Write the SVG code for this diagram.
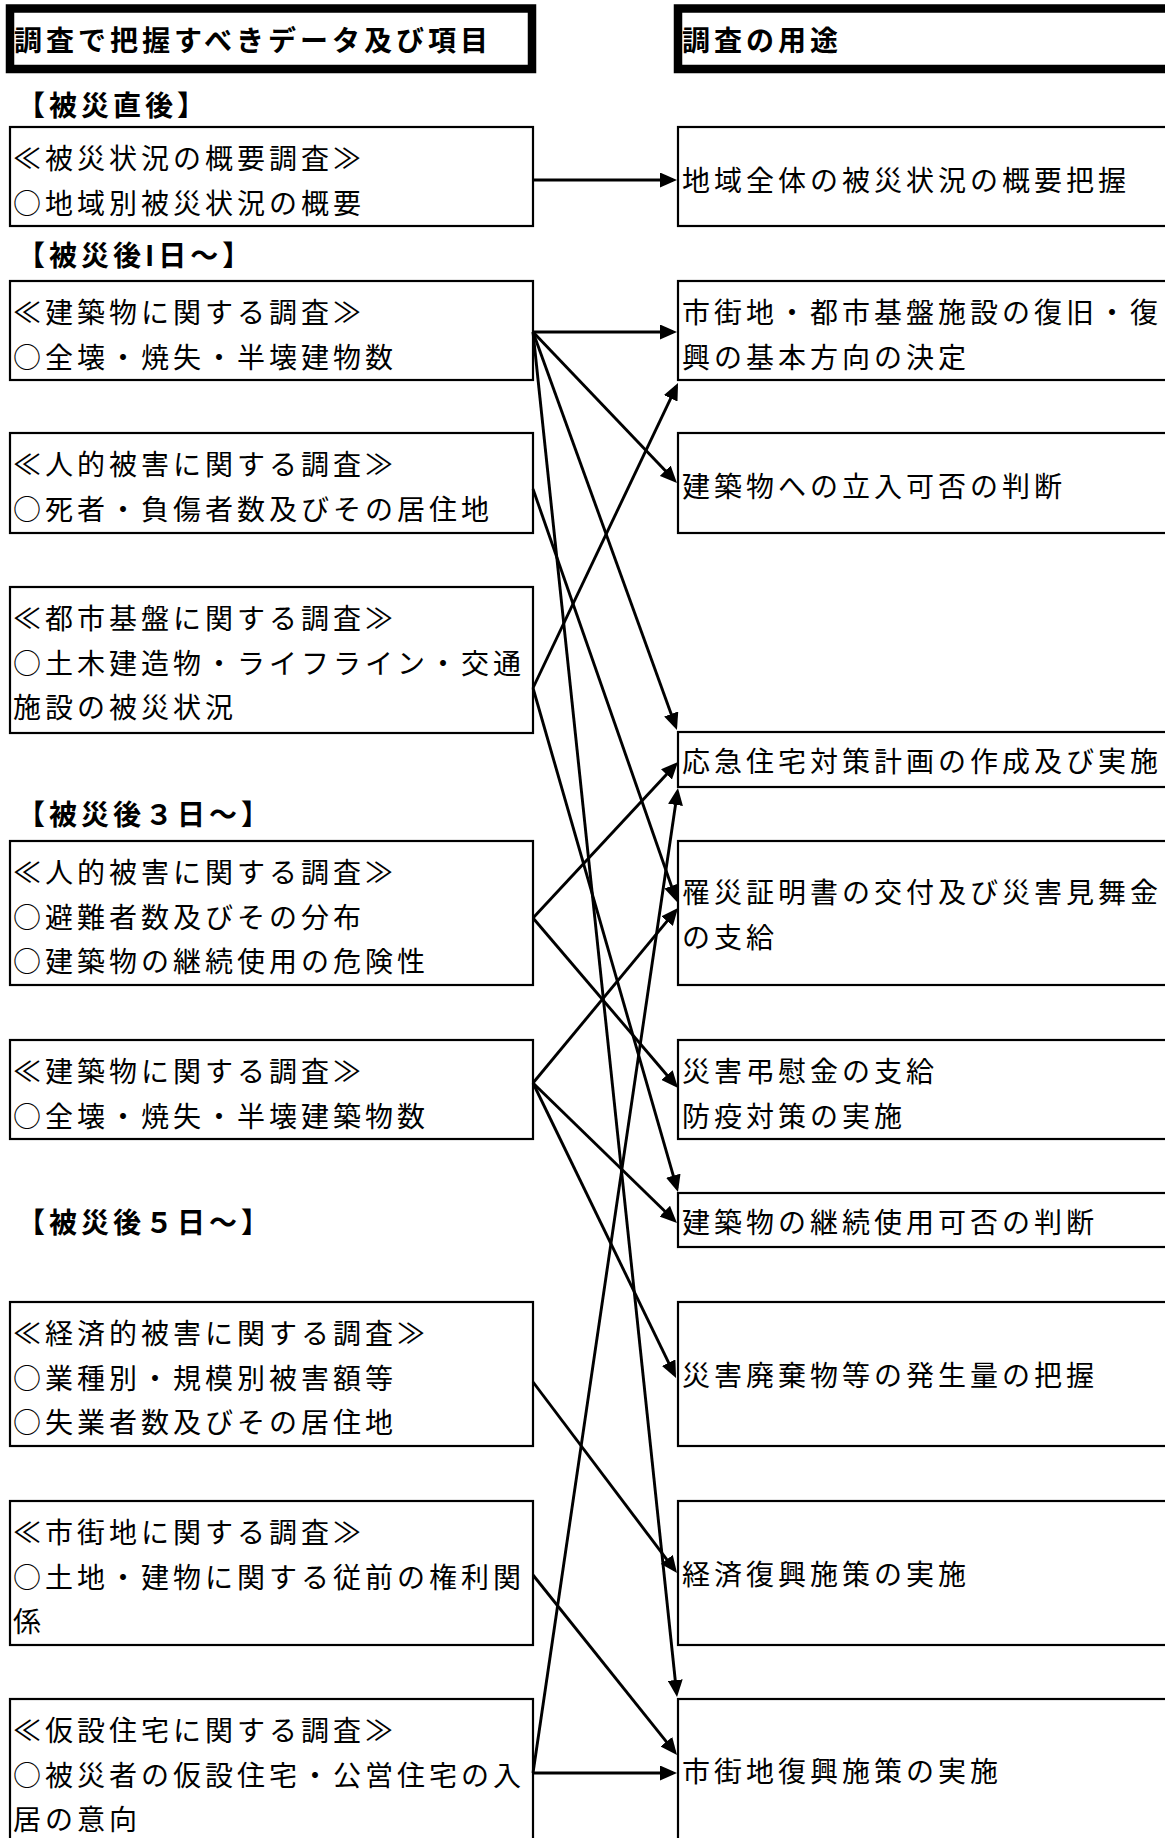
<svg xmlns="http://www.w3.org/2000/svg" width="1165" height="1838" viewBox="0 0 1165 1838">
<style>
.bx{fill:#fff;stroke:#000;stroke-width:2.2}
.hd{fill:#fff;stroke:#000;stroke-width:8.5}
text{font-family:"Noto Sans CJK JP","Noto Sans CJK SC",sans-serif;font-size:28px;letter-spacing:4px;fill:#000}
.b{font-weight:bold}
#connectors line{stroke:#000;stroke-width:2.9;fill:none;marker-end:url(#ah)}
</style>
<defs>
<marker id="ah" markerUnits="userSpaceOnUse" viewBox="0 0 17 15" markerWidth="17" markerHeight="15" refX="13" refY="7.5" orient="auto">
<path d="M0,0 L17,7.5 L0,15 Z" fill="#000"/>
</marker>
</defs>
<rect width="1165" height="1838" fill="#fff"/>

<g id="header-left"><rect class="hd" x="10" y="8.5" width="522" height="60.5"/><text class="b" x="14" y="51">調査で把握すべきデータ及び項目</text></g>
<g id="header-right"><rect class="hd" x="678" y="8.5" width="520" height="60.5"/><text class="b" x="682" y="51">調査の用途</text></g>

<g id="label-0"><text class="b" x="17" y="115.5">【被災直後】</text></g>
<g id="label-1"><text class="b" x="17" y="266">【被災後I日～】</text></g>
<g id="label-3"><text class="b" x="17" y="825">【被災後３日～】</text></g>
<g id="label-5"><text class="b" x="17" y="1233">【被災後５日～】</text></g>

<g id="L1"><rect class="bx" x="10" y="127" width="523" height="99"/><text x="13" y="169">≪被災状況の概要調査≫</text><text x="13" y="213.5">○地域別被災状況の概要</text></g>
<g id="L2"><rect class="bx" x="10" y="281" width="523" height="99"/><text x="13" y="323">≪建築物に関する調査≫</text><text x="13" y="367.5">○全壊・焼失・半壊建物数</text></g>
<g id="L3"><rect class="bx" x="10" y="433" width="523" height="100"/><text x="13" y="475">≪人的被害に関する調査≫</text><text x="13" y="519.5">○死者・負傷者数及びその居住地</text></g>
<g id="L4"><rect class="bx" x="10" y="587" width="523" height="146"/><text x="13" y="629">≪都市基盤に関する調査≫</text><text x="13" y="673.5">○土木建造物・ライフライン・交通</text><text x="13" y="718">施設の被災状況</text></g>
<g id="L5"><rect class="bx" x="10" y="841" width="523" height="144"/><text x="13" y="883">≪人的被害に関する調査≫</text><text x="13" y="927.5">○避難者数及びその分布</text><text x="13" y="972">○建築物の継続使用の危険性</text></g>
<g id="L6"><rect class="bx" x="10" y="1040" width="523" height="99"/><text x="13" y="1082">≪建築物に関する調査≫</text><text x="13" y="1126.5">○全壊・焼失・半壊建築物数</text></g>
<g id="L7"><rect class="bx" x="10" y="1302" width="523" height="144"/><text x="13" y="1344">≪経済的被害に関する調査≫</text><text x="13" y="1388.5">○業種別・規模別被害額等</text><text x="13" y="1433">○失業者数及びその居住地</text></g>
<g id="L8"><rect class="bx" x="10" y="1501" width="523" height="144"/><text x="13" y="1543">≪市街地に関する調査≫</text><text x="13" y="1587.5">○土地・建物に関する従前の権利関</text><text x="13" y="1632">係</text></g>
<g id="L9"><rect class="bx" x="10" y="1699" width="523" height="160"/><text x="13" y="1741">≪仮設住宅に関する調査≫</text><text x="13" y="1785.5">○被災者の仮設住宅・公営住宅の入</text><text x="13" y="1830">居の意向</text></g>

<g id="R1"><rect class="bx" x="678" y="127" width="520" height="99"/><text x="682" y="191">地域全体の被災状況の概要把握</text></g>
<g id="R2"><rect class="bx" x="678" y="281" width="520" height="99"/><text x="682" y="323">市街地・都市基盤施設の復旧・復</text><text x="682" y="367.5">興の基本方向の決定</text></g>
<g id="R3"><rect class="bx" x="678" y="433" width="520" height="100"/><text x="682" y="497">建築物への立入可否の判断</text></g>
<g id="R4"><rect class="bx" x="678" y="732" width="520" height="55"/><text x="682" y="772">応急住宅対策計画の作成及び実施</text></g>
<g id="R5"><rect class="bx" x="678" y="841" width="520" height="144"/><text x="682" y="903">罹災証明書の交付及び災害見舞金</text><text x="682" y="948">の支給</text></g>
<g id="R6"><rect class="bx" x="678" y="1040" width="520" height="99"/><text x="682" y="1082">災害弔慰金の支給</text><text x="682" y="1126.5">防疫対策の実施</text></g>
<g id="R7"><rect class="bx" x="678" y="1193" width="520" height="54"/><text x="682" y="1233">建築物の継続使用可否の判断</text></g>
<g id="R8"><rect class="bx" x="678" y="1302" width="520" height="144"/><text x="682" y="1385.5">災害廃棄物等の発生量の把握</text></g>
<g id="R9"><rect class="bx" x="678" y="1501" width="520" height="144"/><text x="682" y="1585">経済復興施策の実施</text></g>
<g id="R10"><rect class="bx" x="678" y="1699" width="520" height="160"/><text x="682" y="1782">市街地復興施策の実施</text></g>

<g id="connectors">
<line x1="533" y1="180" x2="673" y2="180"/>
<line x1="533" y1="332" x2="673" y2="332"/>
<line x1="533" y1="332" x2="674.2" y2="480.1"/>
<line x1="533" y1="332" x2="675.6" y2="726.2"/>
<line x1="533" y1="332" x2="676.6" y2="1693"/>
<line x1="533" y1="489" x2="675.7" y2="898.2"/>
<line x1="533" y1="688" x2="676.3" y2="386.6"/>
<line x1="533" y1="688" x2="676.9" y2="1188.2"/>
<line x1="533" y1="918" x2="675.3" y2="764.9"/>
<line x1="533" y1="918" x2="675.4" y2="1085"/>
<line x1="533" y1="1083" x2="675.4" y2="911.1"/>
<line x1="533" y1="1083" x2="674.1" y2="1220.2"/>
<line x1="533" y1="1083" x2="674.3" y2="1374.4"/>
<line x1="533" y1="1382" x2="674.6" y2="1569.8"/>
<line x1="533" y1="1575" x2="674.5" y2="1751.9"/>
<line x1="533" y1="1773" x2="677.4" y2="792"/>
<line x1="533" y1="1773" x2="673" y2="1773"/>
</g>
</svg>
